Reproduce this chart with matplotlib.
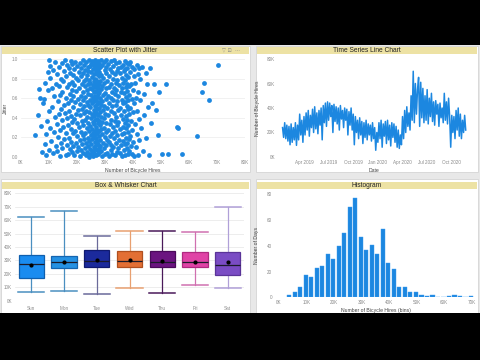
import matplotlib
matplotlib.use('Agg')
import matplotlib.pyplot as plt
import matplotlib.dates as mdates
from matplotlib.patches import Rectangle
import pandas as pd

plt.rcParams['font.family'] = ['Liberation Sans', 'DejaVu Sans']

# ---------------- data ----------------
# Scatter with jitter: (hires in K, jitter)
scatter_points = [
    (5.0,.22),(5.9,.43),(6.4,.69),
    (6.8,.60),(7.1,.32),(7.4,.05),(7.9,.55),(8.2,.59),(8.5,.76),
    (8.7,.13),(8.9,.02),(9.1,.23),(9.3,.37),(9.5,.87),(9.7,.68),(9.9,.07),(10.0,.99),(10.1,.47),(10.3,.30),(10.4,.93),(10.5,.81),
    (10.7,.16),(10.9,.70),(11.1,.51),(11.3,.04),(11.5,.89),(11.7,.26),(11.9,.62),(12.0,.41),(12.2,.97),(12.4,.11),(12.5,.75),
    (12.7,.34),(12.8,.85),(13.0,.06),(13.1,.57),(13.3,.20),(13.4,.92),(13.6,.44),(13.7,.72),(13.9,.01),(14.0,.63),(14.1,.28),(14.2,.80),(14.3,.49),(14.4,.14),(14.5,.96),(14.6,.38),
    (14.7,.66),(14.8,.09),(15.0,.78),(15.1,.31),(15.2,.53),(15.4,.88),(15.5,.18),(15.6,.45),(15.8,.99),(15.9,.02),(16.0,.60),(16.1,.25),(16.2,.83),(16.3,.40),(16.4,.71),(16.5,.12),(16.6,.94),
    (16.7,.55),(16.8,.33),(16.9,.03),(17.0,.74),(17.1,.91),(17.2,.19),(17.3,.47),(17.4,.64),(17.5,.08),(17.6,.86),(17.7,.29),(17.8,.98),(17.9,.42),(18.0,.58),(18.0,.15),(18.1,.77),(18.2,.36),(18.2,.95),(18.3,.05),(18.3,.68),(18.4,.24),(18.5,.51),(18.5,.84),(18.6,.11),
    (18.7,.62),(18.8,.39),(18.9,.90),(19.0,.02),(19.1,.73),(19.2,.27),(19.3,.56),(19.4,.97),(19.5,.14),(19.6,.81),(19.7,.44),(19.8,.67),(19.9,.06),(20.0,.35),(20.0,.93),(20.1,.21),(20.2,.59),(20.3,.79),(20.4,.48),(20.5,.10),(20.6,.87),
    (20.7,.31),(20.8,.70),(20.9,.01),(21.0,.54),(21.0,.96),(21.1,.17),(21.2,.43),(21.3,.83),(21.4,.26),(21.5,.62),(21.5,.07),(21.6,.91),(21.7,.37),(21.8,.75),(21.8,.49),(21.9,.13),(22.0,.99),(22.0,.58),(22.1,.22),(22.2,.86),(22.2,.04),(22.3,.66),(22.3,.33),(22.4,.78),(22.5,.45),(22.5,.18),(22.6,.94),(22.6,.52),
    (22.7,.09),(22.7,.72),(22.8,.38),(22.9,.89),(23.0,.25),(23.0,.61),(23.1,.02),(23.1,.80),(23.2,.47),(23.3,.14),(23.3,.97),(23.4,.56),(23.5,.30),(23.5,.84),(23.6,.68),(23.6,.05),(23.7,.41),(23.8,.92),(23.8,.19),(23.9,.74),(23.9,.53),(24.0,.11),(24.0,.88),(24.1,.35),(24.1,.64),(24.2,.00),(24.2,.79),(24.3,.27),(24.3,.99),(24.4,.46),(24.4,.16),(24.5,.70),(24.5,.58),(24.6,.08),(24.6,.93),
    (24.7,.32),(24.7,.76),(24.8,.51),(24.8,.03),(24.9,.87),(24.9,.22),(25.0,.63),(25.0,.40),(25.1,.95),(25.1,.13),(25.2,.69),(25.2,.29),(25.3,.82),(25.3,.06),(25.4,.55),(25.4,.44),(25.5,.98),(25.5,.18),(25.6,.73),(25.6,.36),(25.7,.60),(25.7,.01),(25.8,.90),(25.8,.25),(25.9,.48),(25.9,.78),(26.0,.10),(26.0,.66),(26.0,.34),(26.1,.94),(26.1,.57),(26.1,.20),(26.2,.85),(26.2,.42),(26.2,.04),(26.3,.71),(26.3,.27),(26.3,.97),(26.4,.52),(26.4,.15),(26.4,.80),(26.5,.38),(26.5,.62),(26.5,.08),(26.6,.91),(26.6,.46),(26.6,.23),(26.6,.75),(26.5,.99),
    (26.7,.12),(26.7,.58),(26.7,.88),(26.8,.31),(26.8,.67),(26.8,.02),(26.9,.79),(26.9,.45),(26.9,.19),(27.0,.96),(27.0,.54),(27.0,.28),(27.1,.72),(27.1,.07),(27.1,.39),(27.2,.85),(27.2,.61),(27.2,.16),(27.3,.93),(27.3,.49),(27.3,.24),(27.4,.77),(27.4,.03),(27.4,.35),(27.5,.64),(27.5,.90),(27.5,.13),(27.6,.43),(27.6,.70),(27.6,.98),(27.7,.21),(27.7,.56),(27.7,.83),(27.8,.09),(27.8,.37),(27.8,.66),(27.9,.95),(27.9,.27),(27.9,.50),(28.0,.74),(28.0,.05),(28.0,.87),(28.1,.33),(28.1,.60),(28.1,.17),(28.2,.92),(28.2,.46),(28.3,.78),(28.3,.11),(28.4,.53),(28.4,.99),(28.5,.29),(28.5,.69),(28.6,.41),
    (28.7,.84),(28.7,.06),(28.8,.57),(28.9,.23),(28.9,.94),(29.0,.36),(29.1,.72),(29.1,.01),(29.2,.48),(29.3,.81),(29.3,.14),(29.4,.63),(29.5,.97),(29.5,.30),(29.6,.52),(29.7,.76),(29.7,.09),(29.8,.40),(29.9,.89),(29.9,.20),(30.0,.65),(30.1,.03),(30.1,.44),(30.2,.86),(30.2,.26),(30.3,.59),(30.3,.99),(30.4,.12),(30.4,.70),(30.5,.35),(30.5,.92),(30.6,.50),(30.6,.17),
    (30.7,.78),(30.8,.04),(30.9,.62),(31.0,.28),(31.1,.95),(31.2,.43),(31.3,.15),(31.4,.83),(31.5,.55),(31.6,.01),(31.6,.71),(31.7,.34),(31.8,.90),(31.9,.21),(32.0,.60),(32.0,.07),(32.1,.47),(32.2,.98),(32.2,.38),(32.3,.75),(32.3,.12),(32.4,.66),(32.5,.25),(32.5,.87),(32.6,.52),(32.6,.03),
    (32.7,.80),(32.8,.31),(32.9,.58),(33.0,.10),(33.0,.93),(33.1,.45),(33.2,.70),(33.3,.19),(33.3,.99),(33.4,.37),(33.5,.64),(33.6,.02),(33.6,.85),(33.7,.27),(33.8,.53),(33.8,.76),(33.9,.14),(34.0,.96),(34.0,.41),(34.1,.68),(34.2,.05),(34.2,.88),(34.3,.33),(34.3,.57),(34.4,.22),(34.4,.79),(34.5,.48),(34.5,.91),(34.6,.09),
    (34.7,.62),(34.8,.36),(34.9,.97),(35.0,.17),(35.1,.73),(35.2,.50),(35.3,.04),(35.4,.86),(35.5,.29),(35.6,.66),(35.7,.12),(35.8,.92),(35.8,.43),(35.9,.58),(36.0,.23),(36.0,.81),(36.1,.01),(36.2,.70),(36.3,.39),(36.3,.94),(36.4,.16),(36.5,.55),(36.5,.76),(36.6,.31),
    (36.7,.88),(36.7,.07),(36.8,.47),(36.9,.65),(36.9,.24),(37.0,.98),(37.0,.35),(37.1,.79),(37.1,.13),(37.2,.56),(37.3,.90),(37.3,.02),(37.4,.42),(37.4,.71),(37.5,.19),(37.5,.61),(37.6,.84),(37.6,.30),(37.7,.96),(37.7,.09),(37.8,.52),(37.8,.75),(37.9,.38),(37.9,.14),(38.0,.67),(38.0,.91),(38.1,.26),(38.1,.49),(38.2,.03),(38.2,.82),(38.3,.58),(38.3,.33),(38.4,.95),(38.4,.18),(38.5,.72),(38.5,.44),(38.6,.06),
    (38.7,.63),(38.8,.87),(38.9,.21),(39.0,.50),(39.1,.97),(39.2,.11),(39.3,.74),(39.4,.37),(39.5,.59),(39.6,.03),(39.7,.92),(39.8,.28),(39.9,.68),(40.0,.46),(40.1,.15),(40.2,.83),(40.3,.55),(40.4,.01),(40.5,.90),
    (40.7,.34),(40.8,.76),(41.0,.10),(41.1,.60),(41.3,.94),(41.4,.23),(41.6,.47),(41.7,.85),(41.8,.02),(41.9,.66),(42.0,.39),(42.2,.91),(42.3,.17),(42.4,.58),(42.5,.80),
    (42.8,.30),(43.2,.92),(43.5,.06),(43.8,.64),(44.1,.43),(44.5,.86),
    (44.8,.19),(45.1,.74),(45.4,.51),(45.8,.02),(46.1,.91),(46.4,.35),
    (46.9,.55),(47.6,.74),(48.1,.48),
    (48.9,.22),(49.3,.66),(50.2,.03),
    (51.8,.75),(52.4,.03),
    (55.6,.31),(56.1,.30),(57.4,.03),(63.0,.21),(64.6,.66),(65.3,.76),(67.0,.58),(70.4,.94),
]

# Time series: hires (K), one reading every 4 days from 2019-01-10
ts_start = '2019-01-10'
ts_values = [
    24, 16, 28, 15, 26, 13,
    25, 10, 27, 12, 24, 14, 28,
    9.5, 26, 14, 35, 18, 30, 12, 33,
    18, 36, 22, 38, 17, 34, 24,
    39, 20, 41, 23, 36, 19, 38, 26,
    40, 14, 42, 28, 44, 25, 45,
    30, 44, 33, 42, 20, 43, 29, 41,
    27, 40, 22, 42, 31, 38, 24, 40,
    30, 39, 18, 37, 26, 40, 22,
    35, 10, 33, 20, 30, 15, 32, 18,
    29, 11, 28, 16, 30, 14, 27, 18,
    26, 13, 28, 15, 24, 5.5, 20,
    12, 28, 15, 30, 8, 27, 17, 29,
    11, 30, 14, 26, 9, 28, 16,
    27, 12, 25, 8, 22, 7, 18, 10,
    33, 15, 38, 20, 41, 25, 36,
    22, 50, 30, 70, 28, 60, 35, 55,
    65, 25, 61, 32, 56, 28, 50,
    30, 55, 27, 48, 33, 52, 29, 45,
    26, 46, 35, 43, 25, 44, 32, 40,
    28, 52, 30, 45, 27, 48, 33,
    8, 34, 20, 33, 15, 38, 22, 40,
    17, 35, 15, 30, 20, 34, 22,
]
ts_ticks = ['2019-04-01', '2019-07-01', '2019-10-01', '2020-01-01',
            '2020-04-01', '2020-07-01', '2020-10-01']

# Box & whisker stats by weekday (K)
days = ['Sun', 'Mon', 'Tue', 'Wed', 'Thu', 'Fri', 'Sat']
box_min = [6.5, 7.0, 5.0, 9.2, 6.0, 11.4, 9.4]
box_q1 = [16.6, 24.1, 24.8, 25.3, 24.8, 25.3, 18.9]
box_med = [27.1, 28.6, 29.8, 29.8, 29.0, 28.6, 26.6]
box_q3 = [33.8, 33.5, 37.5, 36.8, 37.0, 36.0, 36.3]
box_max = [62.6, 67.0, 48.4, 52.2, 52.2, 51.0, 70.0]
box_mean = [26.6, 28.8, 30.6, 30.0, 29.8, 29.0, 28.6]
box_face = ['#1a8cf0', '#2591e3', '#1b2a9c', '#e36f34', '#6b1480', '#e043a6', '#7a4cc4']
box_edge = ['#0f5fae', '#1565b0', '#101a70', '#b05020', '#4a0a5a', '#b02a80', '#5a3498']
box_whisk = ['#4a8fc0', '#4a8fc0', '#6a6a9a', '#e8a070', '#4a1a5a', '#d070b0', '#b0a0d8']

# Histogram: bin centers (K) and counts of days
hist_centers = [3.7, 5.7, 7.7, 9.7, 11.7, 13.7, 15.7, 17.7, 19.7, 21.7, 23.7, 25.7,
                27.7, 29.7, 31.7, 33.7, 35.7, 37.7, 39.7, 41.7, 43.7, 45.7, 47.7,
                49.7, 51.7, 53.7, 55.7, 57.7, 59.7, 61.7, 63.7, 65.7, 67.7, 69.7]
hist_counts = [2, 4, 8, 17, 16, 23, 24, 34, 30, 40, 50, 70, 77, 47, 37, 41, 34,
               53, 27, 22, 8, 8, 4, 4, 2, 1, 2, 0, 0, 1, 2, 1, 0, 1]

# ---------------- layout ----------------
W, H = 480, 360
fig = plt.figure(figsize=(4.8, 3.6), dpi=100, facecolor='black')


def frect(x0, y0, x1, y1):
    return [x0 / W, 1 - y1 / H, (x1 - x0) / W, (y1 - y0) / H]


def add_rect(x0, y0, x1, y1, fc, ec='none', lw=0, z=-5):
    r = frect(x0, y0, x1, y1)
    fig.patches.append(Rectangle((r[0], r[1]), r[2], r[3], transform=fig.transFigure,
                                 facecolor=fc, edgecolor=ec, linewidth=lw, zorder=z))


add_rect(0, 45, 480, 313, '#e8e8e8', z=-10)
panels = [((1, 46, 250, 172), (47, 54), 'Scatter Plot with Jitter'),
          ((256, 46, 478, 172), (47, 54), 'Time Series Line Chart'),
          ((1, 179, 250, 316), (182, 189), 'Box & Whisker Chart'),
          ((256, 179, 478, 316), (182, 189), 'Histogram')]
for (x0, y0, x1, y1), (t0, t1), title in panels:
    add_rect(x0, y0, x1, y1, 'white', ec='#d4d4d4', lw=0.6, z=-8)
    add_rect(x0 + 1, t0, x1 - 1, t1, '#ede2a4', z=-6)
    fig.text(((x0 + x1) / 2) / W, 1 - ((t0 + t1) / 2 + 0.3) / H, title,
             ha='center', va='center', fontsize=4.8, color='#222222')
add_rect(0, 313, 480, 360, 'black', z=-4)
fig.text(222 / W, 1 - 51 / H, '\u25BD \u22A1  \u22EF', fontsize=3.6, color='#888888',
         ha='left', va='center', family=['DejaVu Sans'])

TICK = dict(labelsize=3.3, colors='#8a8a8a', length=0, pad=2)
LAB = dict(fontsize=3.7, color='#444444')
BLUE = '#1c87e0'


def style(ax):
    for s in ax.spines.values():
        s.set_visible(False)
    ax.tick_params(axis='both', **TICK)
    ax.set_facecolor('none')


kfmt = lambda v: f'{int(v)}K'

# Scatter
ax1 = fig.add_axes(frect(21, 59, 245, 157))
style(ax1)
xs = [p[0] for p in scatter_points]
ys = [p[1] for p in scatter_points]
ax1.scatter(xs, ys, s=12, color=BLUE, linewidths=0, clip_on=False, zorder=3)
ax1.set_xlim(0, 80)
ax1.set_ylim(0, 1)
ax1.set_xticks(range(0, 81, 10))
ax1.set_xticklabels([kfmt(v) for v in range(0, 81, 10)])
ax1.set_yticks([0, .2, .4, .6, .8, 1.0])
ax1.set_yticklabels(['0.0', '0.2', '0.4', '0.6', '0.8', '1.0'])
ax1.grid(axis='y', color='#ececec', lw=0.5)
ax1.set_axisbelow(True)
ax1.set_xlabel('Number of Bicycle Hires', labelpad=2, **LAB)
ax1.set_ylabel('Jitter', labelpad=3, **LAB)

# Time series
ax2 = fig.add_axes(frect(278, 59, 470, 157))
style(ax2)
dates = pd.date_range(ts_start, periods=len(ts_values), freq='4D')
ax2.plot(dates, ts_values, color=BLUE, lw=1.1)
ax2.set_xlim(pd.Timestamp('2018-12-24'), pd.Timestamp('2020-12-10'))
ax2.set_ylim(0, 80)
ax2.set_yticks(range(0, 81, 20))
ax2.set_yticklabels([kfmt(v) for v in range(0, 81, 20)])
tick_dates = pd.to_datetime(ts_ticks)
ax2.set_xticks(tick_dates)
ax2.set_xticklabels([d.strftime('%b %Y') for d in tick_dates])
ax2.set_xlabel('Date', labelpad=2, **LAB)
ax2.set_ylabel('Number of Bicycle Hires', labelpad=5, **LAB)

# Box & whisker
ax3 = fig.add_axes(frect(15, 193.3, 244, 300.7))
style(ax3)
stats = []
for i, d in enumerate(days):
    stats.append(dict(label=d, whislo=box_min[i], q1=box_q1[i], med=box_med[i],
                      q3=box_q3[i], whishi=box_max[i], mean=box_mean[i], fliers=[]))
bp = ax3.bxp(stats, positions=range(len(days)), widths=0.77, patch_artist=True,
             showmeans=True, showfliers=False)
for i in range(len(days)):
    bp['boxes'][i].set(facecolor=box_face[i], edgecolor=box_edge[i], linewidth=0.9, zorder=3)
    bp['medians'][i].set(color='#1c1c2c', linewidth=0.9, zorder=4)
    bp['means'][i].set(marker='o', markerfacecolor='black', markeredgecolor='black',
                       markersize=2.0, zorder=5)
    for k in (2 * i, 2 * i + 1):
        bp['whiskers'][k].set(color=box_whisk[i], linewidth=0.9)
        bp['caps'][k].set(color=box_whisk[i], linewidth=1.1)
        bp['caps'][k].set_xdata([i - 0.4, i + 0.4])
ax3.set_xlim(-0.5, 6.5)
ax3.set_ylim(0, 80)
ax3.set_yticks(range(0, 81, 10))
ax3.set_yticklabels([kfmt(v) for v in range(0, 81, 10)])
ax3.set_xticks(range(len(days)))
ax3.set_xticklabels(days)
ax3.tick_params(axis='x', pad=4)
ax3.grid(axis='y', color='#e6e6e6', lw=0.5)
ax3.set_axisbelow(True)

# Histogram
ax4 = fig.add_axes(frect(275, 194.3, 476, 297.3))
style(ax4)
ax4.bar(hist_centers, hist_counts, width=1.5, color=BLUE, edgecolor='#3c9cf0', linewidth=0.3)
ax4.set_xlim(-1.45, 71.5)
ax4.set_ylim(0, 80)
ax4.set_yticks(range(0, 81, 20))
ax4.set_xticks(range(0, 71, 10))
ax4.set_xticklabels([kfmt(v) for v in range(0, 71, 10)])
ax4.set_xlabel('Number of Bicycle Hires (bins)', labelpad=2, **LAB)
ax4.set_ylabel('Number of Days', labelpad=6, **LAB)

fig.savefig('out.png', dpi=100, facecolor='black')
